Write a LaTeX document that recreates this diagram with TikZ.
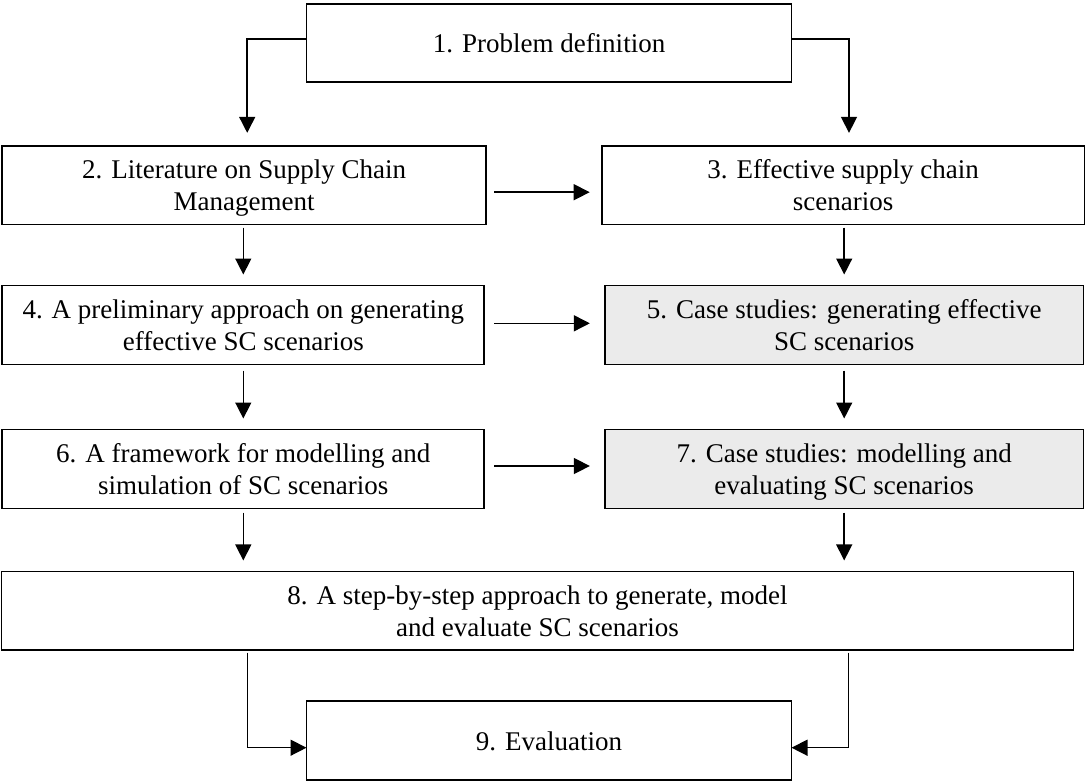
\documentclass[tikz,border=0pt]{standalone}
\usepackage{fontspec}
\setmainfont{Liberation Serif}
\usetikzlibrary{arrows.meta,calc}
\definecolor{casegray}{RGB}{235,235,235}
\tikzset{
  box/.style={draw=black, line width=1.7pt, rectangle, inner sep=0pt, outer sep=0pt,
    align=center, font=\fontsize{27}{32}\selectfont, text depth=0pt},
  casebox/.style={box, fill=casegray},
  flow/.style={draw=black, line width=1.5pt, -{Triangle[length=16pt,width=16pt]}},
}
\begin{document}
\begin{tikzpicture}[x=1pt,y=-1pt]
\useasboundingbox (0,0) rectangle (1086,782);

% process steps
\node[box, minimum width=485pt, minimum height=78pt] (n1) at (549,42.8) {1. Problem definition};
\node[box, minimum width=483.8pt, minimum height=78.7pt] (n2) at (244.1,185.2) {2. Literature on Supply Chain\\Management};
\node[box, minimum width=482.8pt, minimum height=78.7pt] (n3) at (843.1,185.2) {3. Effective supply chain\\scenarios};
\node[box, minimum width=482pt, minimum height=79pt] (n4) at (243.3,325) {4. A preliminary approach on generating\\effective SC scenarios};
\node[casebox, minimum width=478.7pt, minimum height=79pt] (n5) at (844.2,325) {5. Case studies: generating effective\\SC scenarios};
\node[box, minimum width=482pt, minimum height=79pt] (n6) at (243.3,469) {6. A framework for modelling and\\simulation of SC scenarios};
\node[casebox, minimum width=478.7pt, minimum height=79pt] (n7) at (844.2,469) {7. Case studies: modelling and\\evaluating SC scenarios};
\node[box, minimum width=1072pt, minimum height=78.7pt] (n8) at (537.5,610.8) {8. A step-by-step approach to generate, model\\and evaluate SC scenarios};
\node[box, minimum width=485pt, minimum height=79pt] (n9) at (549,740.7) {9. Evaluation};

% connectors
\draw[flow] ($(n1.west)+(0,-4)$) -| ($(n2.north)+(3.1,-13)$);
\draw[flow] ($(n1.east)+(0,-4)$) -| ($(n3.north)+(5.9,-13)$);

\draw[flow] ($(n2.east)+(8,7)$) -- ($(n3.west |- n2.east)+(-12,7)$);
\draw[flow] ($(n4.east)+(10,-1.7)$) -- ($(n5.west |- n4.east)+(-15,-1.7)$);
\draw[flow] ($(n6.east)+(10,-3)$) -- ($(n7.west |- n6.east)+(-15,-3)$);

\draw[flow] ($(n2.south -| n4.north)+(0,3)$) -- ($(n4.north)+(0,-11)$);
\draw[flow] ($(n4.south)+(0,6)$) -- ($(n6.north)+(0,-11)$);
\draw[flow] ($(n6.south)+(0,4)$) -- ($(n6.south |- n8.north)+(0,-11)$);

\draw[flow] ($(n3.south -| n5.north)+(0,3)$) -- ($(n5.north)+(0,-11)$);
\draw[flow] ($(n5.south)+(0,6)$) -- ($(n7.north)+(0,-11)$);
\draw[flow] ($(n7.south)+(0,4)$) -- ($(n7.south |- n8.north)+(0,-11)$);

\draw[flow] ($(n8.south -| n9.west)+(-58.8,2.5)$) |- ($(n9.west)+(0,7)$);
\draw[flow] ($(n8.south -| n9.east)+(57,2.5)$) |- ($(n9.east)+(0,7)$);
\end{tikzpicture}
\end{document}
